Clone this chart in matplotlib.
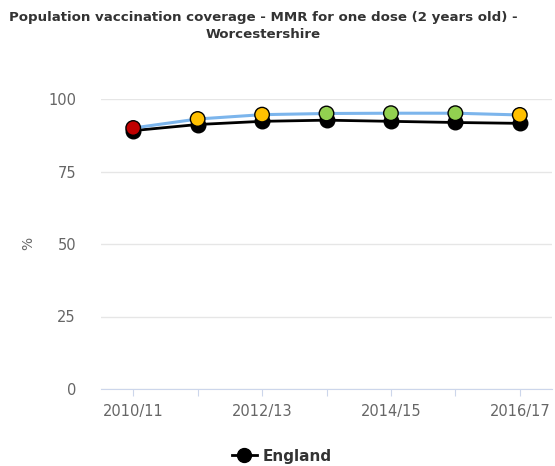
import matplotlib
matplotlib.use("Agg")
import matplotlib.pyplot as plt
from matplotlib.lines import Line2D

categories = ["2010/11", "2011/12", "2012/13", "2013/14", "2014/15", "2015/16", "2016/17"]
local_values = [90.0, 93.1, 94.6, 95.0, 95.1, 95.1, 94.5]
england_values = [89.1, 91.2, 92.3, 92.7, 92.3, 91.9, 91.6]
local_colors = ["#c00000", "#ffc000", "#ffc000", "#92d050", "#92d050", "#92d050", "#ffc000"]
yticks = [0, 25, 50, 75, 100]

W, H = 555, 466
fig = plt.figure(figsize=(W / 100, H / 100), dpi=100)
ax = fig.add_axes([101 / W, (H - 389) / H, (552 - 101) / W, (389 - 99) / H])

x = list(range(len(categories)))
ax.plot(x, england_values, color="black", lw=2, marker="o", markersize=10.5,
        markerfacecolor="black", markeredgecolor="black", zorder=3, clip_on=False)
ax.plot(x, local_values, color="#7cb5ec", lw=2.2, zorder=4, clip_on=False)
ax.scatter(x, local_values, s=110, c=local_colors, edgecolors="black", linewidths=1.0,
           zorder=5, clip_on=False)

ax.set_xlim(-0.5, len(categories) - 0.5)
ax.set_ylim(0, 100)
ax.set_yticks(yticks)
ax.set_yticklabels([str(v) for v in yticks])
ax.set_xticks(x)
ax.set_xticklabels([c if i % 2 == 0 else "" for i, c in enumerate(categories)])

ax.grid(axis="y", color="#e6e6e6", lw=1)
ax.set_axisbelow(True)
for s in ["top", "right", "left"]:
    ax.spines[s].set_visible(False)
ax.spines["bottom"].set_color("#ccd6eb")
ax.tick_params(axis="y", length=0, pad=18, labelsize=10.5, labelcolor="#666666")
ax.tick_params(axis="x", length=5, color="#ccd6eb", pad=6, labelsize=10.5, labelcolor="#666666")

fig.text(28 / W, 1 - 243 / H, "%", rotation=90, ha="center", va="center", fontsize=10, color="#666666")

fig.text(263 / W, 1 - 17 / H, "Population vaccination coverage - MMR for one dose (2 years old) -",
         ha="center", va="center", fontsize=9.6, fontweight="bold", color="#333333")
fig.text(263 / W, 1 - 35 / H, "Worcestershire",
         ha="center", va="center", fontsize=9.6, fontweight="bold", color="#333333")

handle = Line2D([0], [0], color="black", lw=2, marker="o", markersize=10,
                markerfacecolor="black", markeredgecolor="black")
leg = fig.legend([handle], ["England"], loc="center", bbox_to_anchor=(282 / W, 1 - 456 / H),
                 frameon=False, handlelength=1.6, handletextpad=0.4,
                 prop={"weight": "bold", "size": 11})
for t in leg.get_texts():
    t.set_color("#333333")

fig.savefig("out.png", dpi=100)
